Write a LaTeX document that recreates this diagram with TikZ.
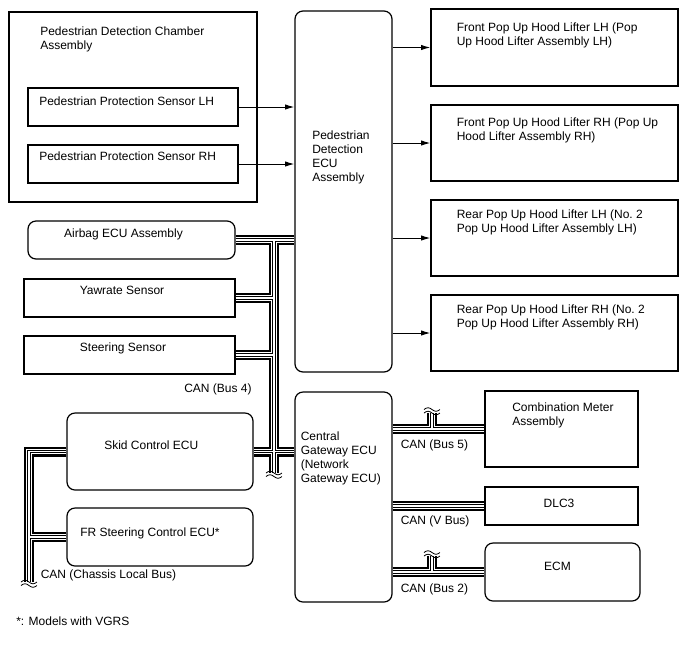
\documentclass[tikz,border=0pt]{standalone}
\usepackage{fontspec}
\setmainfont{Liberation Sans}
\usetikzlibrary{fit,calc,arrows.meta}

\tikzset{
  box/.style={draw, line width=0.9pt, inner sep=0pt},
  rbox/.style={box, rounded corners=6pt},
  txt/.style={inner sep=0pt, align=left, font=\fontsize{9}{10.5}\selectfont},
  freccia/.style={->, line width=0.75pt},
  canbus/.style={line width=7.5pt,
    postaction={draw, white, line width=3.9pt},
    postaction={draw, black, line width=2.4pt},
    postaction={draw, white, line width=1.1pt}},
  taglio/.style={line width=0.6pt},
}

\begin{document}
\begin{tikzpicture}[x=0.75pt, y=-0.75pt, >={Latex[length=7pt,width=4pt]}]
  \useasboundingbox (0,0) rectangle (688,658);

  % scatole
  \node[box, fit={(9,12) (257,202)}] (chamber) {};
  \node[box, fit={(28,88) (238,126)}] (senslh) {};
  \node[box, fit={(28,145) (238,183)}] (sensrh) {};
  \node[rbox, fit={(295,11) (392,372)}] (pdecu) {};
  \node[box, fit={(431,9) (678,86)}] (hood1) {};
  \node[box, fit={(431,105) (678,181)}] (hood2) {};
  \node[box, fit={(431,200) (678,276)}] (hood3) {};
  \node[box, fit={(431,295) (678,371)}] (hood4) {};
  \node[rbox, fit={(28,221) (235,259)}] (airbag) {};
  \node[box, fit={(24,279) (235,317)}] (yaw) {};
  \node[box, fit={(24,336) (235,374)}] (steer) {};
  \node[rbox, fit={(67,413) (253,490)}] (skid) {};
  \node[rbox, fit={(67,508) (253,566)}] (frs) {};
  \node[rbox, fit={(295,392) (392,602)}] (cgw) {};
  \node[box, fit={(485,391) (638,467)}] (comb) {};
  \node[box, fit={(485,487) (638,525)}] (dlc) {};
  \node[rbox, fit={(485,543) (640,601)}] (ecm) {};

  % testi
  \node[txt, anchor=north west] (tchamber) at (40,26.5) {Pedestrian Detection Chamber\\Assembly};
  \node[txt, anchor=north west] (tsenslh) at (39,96.5) {Pedestrian Protection Sensor LH};
  \node[txt, anchor=north west] (tsensrh) at (39,151.5) {Pedestrian Protection Sensor RH};
  \node[txt, anchor=north west] (tpdecu) at (312,130.5) {Pedestrian\\Detection\\ECU\\Assembly};
  \node[txt, anchor=north west] (thood1) at (456.5,23) {Front Pop Up Hood Lifter LH (Pop\\Up Hood Lifter Assembly LH)};
  \node[txt, anchor=north west] (thood2) at (456.5,118) {Front Pop Up Hood Lifter RH (Pop Up\\Hood Lifter Assembly RH)};
  \node[txt, anchor=north west] (thood3) at (456.5,210) {Rear Pop Up Hood Lifter LH (No.\ 2\\Pop Up Hood Lifter Assembly LH)};
  \node[txt, anchor=north west] (thood4) at (456.5,305) {Rear Pop Up Hood Lifter RH (No.\ 2\\Pop Up Hood Lifter Assembly RH)};
  \node[txt, anchor=north] (tairbag) at (123.5,229) {Airbag ECU Assembly};
  \node[txt, anchor=north] (tyaw) at (122,286) {Yawrate Sensor};
  \node[txt, anchor=north] (tsteer) at (123,343) {Steering Sensor};
  \node[txt, anchor=north west] (tbus4) at (184,384) {CAN (Bus 4)};
  \node[txt, anchor=north west] (tskid) at (104,441) {Skid Control ECU};
  \node[txt, anchor=north west] (tfrs) at (80,528) {FR Steering Control ECU*};
  \node[txt, anchor=north west] (tchassis) at (40.5,570) {CAN (Chassis Local Bus)};
  \node[txt, anchor=north west] (tnota) at (16,617) {*: Models with VGRS};
  \node[txt, anchor=north west] (tcgw) at (300.5,432) {Central\\Gateway ECU\\(Network\\Gateway ECU)};
  \node[txt, anchor=north west] (tcomb) at (512,402.5) {Combination Meter\\Assembly};
  \node[txt, anchor=north] (tdlc) at (559,498.5) {DLC3};
  \node[txt, anchor=north] (tecm) at (557.5,562) {ECM};
  \node[txt, anchor=north west] (tbus5) at (400.5,440) {CAN (Bus 5)};
  \node[txt, anchor=north west] (tvbus) at (400.5,516) {CAN (V Bus)};
  \node[txt, anchor=north west] (tbus2) at (400.5,584) {CAN (Bus 2)};

  % frecce
  \draw[freccia] (senslh.east) -- (senslh.east -| pdecu.west);
  \draw[freccia] (sensrh.east) -- (sensrh.east -| pdecu.west);
  \foreach \h in {hood1,hood2,hood3,hood4}
    \draw[freccia] (\h.west -| pdecu.east) -- (\h.west);

  % linee CAN
  \coordinate (b4top) at (274,240);
  \coordinate (b4end) at (274,473);
  \coordinate (chsend) at (29,582);
  \coordinate (b5end) at (432,413);
  \coordinate (b2end) at (432,556);
  \draw[canbus]
    (airbag.east) -- (airbag.east -| pdecu.west)
    (b4top) -- (b4end)
    (yaw.east) -- (yaw.east -| b4top)
    (steer.east) -- (steer.east -| b4top)
    (skid.east) -- (skid.east -| cgw.west)
    (skid.west) -- (skid.west -| chsend) -- (chsend)
    (frs.west) -- (frs.west -| chsend)
    (comb.west -| cgw.east) -- (comb.west)
    (b5end |- comb.west) -- (b5end)
    (dlc.west -| cgw.east) -- (dlc.west)
    (ecm.west -| cgw.east) -- (ecm.west)
    (b2end |- ecm.west) -- (b2end);

  % interruzioni
  \foreach \p/\d in {b4end/1, chsend/1, b5end/-1, b2end/-1} {
    \draw[taglio] ($(\p)+(-8,0)$) sin ++(4,-1.8) cos ++(4,1.8) sin ++(4,1.8) cos ++(4,-1.8);
    \draw[taglio] ($(\p)+(-8,3.5*\d)$) sin ++(4,-1.8) cos ++(4,1.8) sin ++(4,1.8) cos ++(4,-1.8);
  }
\end{tikzpicture}
\end{document}
